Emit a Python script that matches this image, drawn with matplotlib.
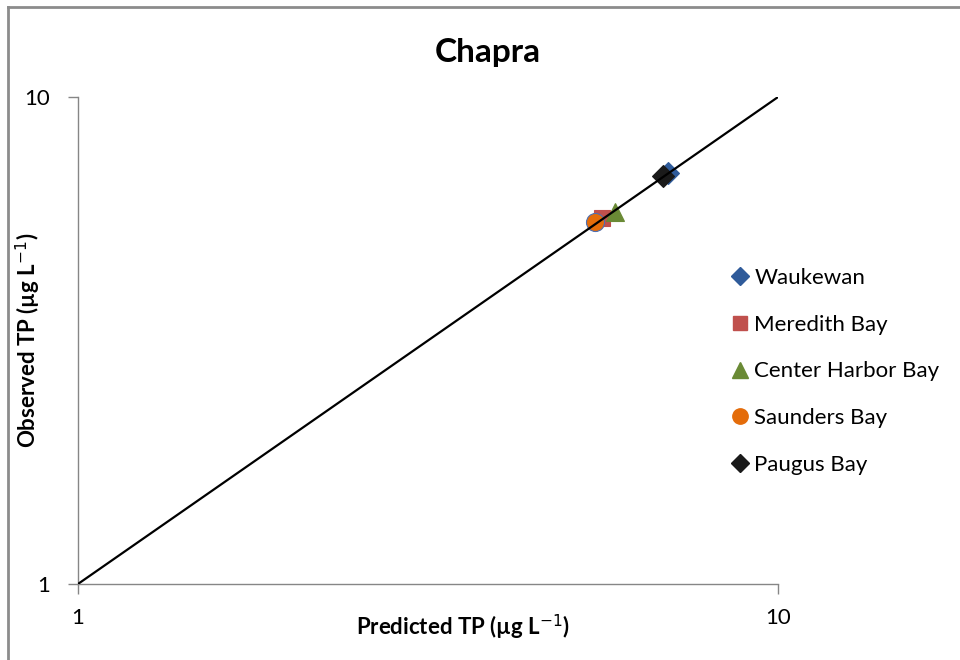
import matplotlib
matplotlib.use('Agg')
import matplotlib.pyplot as plt
from matplotlib.lines import Line2D

plt.rcParams['font.family'] = ['Lato', 'DejaVu Sans']

# predicted vs observed total phosphorus (ug/L)
sites = ['Waukewan', 'Meredith Bay', 'Center Harbor Bay', 'Saunders Bay', 'Paugus Bay']
predicted = [6.96, 5.61, 5.85, 5.48, 6.85]
observed = [6.98, 5.64, 5.80, 5.54, 6.88]
markers = ['D', 's', '^', 'o', 'D']
colors = ['#2F5B9A', '#C0504D', '#6A8A35', '#E46C0A', '#1A1A1A']
sizes = [11, 12, 13, 13, 11]

# 1:1 line
line_x = [1, 10]
line_y = [1, 10]

fig = plt.figure(figsize=(9.6, 6.6), dpi=100)
ax = fig.add_axes([0.08125, 0.1152, 0.7292, 0.7378])

for name, px, oy, m, c, s in zip(sites, predicted, observed, markers, colors, sizes):
    edge = '#4F6FB0' if m == 'o' else c
    ax.plot(px, oy, linestyle='none', marker=m, color=c, markersize=s,
            markeredgecolor=edge, markeredgewidth=0.8, label=name, zorder=2)

ax.plot(line_x, line_y, color='black', linewidth=1.6, zorder=3)

ax.set_xscale('log')
ax.set_yscale('log')
ax.set_xlim(1, 10)
ax.set_ylim(1, 10)
ax.set_xticks([1, 10])
ax.set_yticks([1, 10])
ax.set_xticklabels(['1', '10'])
ax.set_yticklabels(['1', '10'])
ax.minorticks_off()
ax.tick_params(length=7, width=1, color='#868686', labelsize=16)
ax.tick_params(axis='y', pad=13)
ax.tick_params(axis='x', pad=10)

for side in ['top', 'right']:
    ax.spines[side].set_visible(False)
for side in ['left', 'bottom']:
    ax.spines[side].set_color('#868686')
    ax.spines[side].set_linewidth(1)

ax.set_xlabel('Predicted TP (\u00b5g L$^{-1}$)', fontsize=16, fontweight='bold')
ax.set_ylabel('Observed TP (\u00b5g L$^{-1}$)', fontsize=16, fontweight='bold')
ax.xaxis.set_label_coords(0.55, -0.06)
ax.yaxis.set_label_coords(-0.05, 0.5)

fig.text(0.508, 0.92, 'Chapra', fontsize=24, fontweight='bold', ha='center', va='center')

handles = [Line2D([], [], linestyle='none', marker=m, color=c, markersize=s * 0.85,
                  markeredgecolor=c)
           for m, c, s in zip(markers, colors, sizes)]
fig.legend(handles, sites, loc='upper left', bbox_to_anchor=(0.737, 0.624),
           frameon=False, fontsize=16, labelspacing=1.2, handletextpad=0.1,
           handlelength=1.1)

# chart area border
fig.add_artist(Line2D([0.0085, 0.0085], [0, 0.99], transform=fig.transFigure,
                      color='#8C8C8C', linewidth=2))
fig.add_artist(Line2D([0.0085, 1], [0.99, 0.99], transform=fig.transFigure,
                      color='#8C8C8C', linewidth=2))

fig.savefig('out.png', dpi=100)
